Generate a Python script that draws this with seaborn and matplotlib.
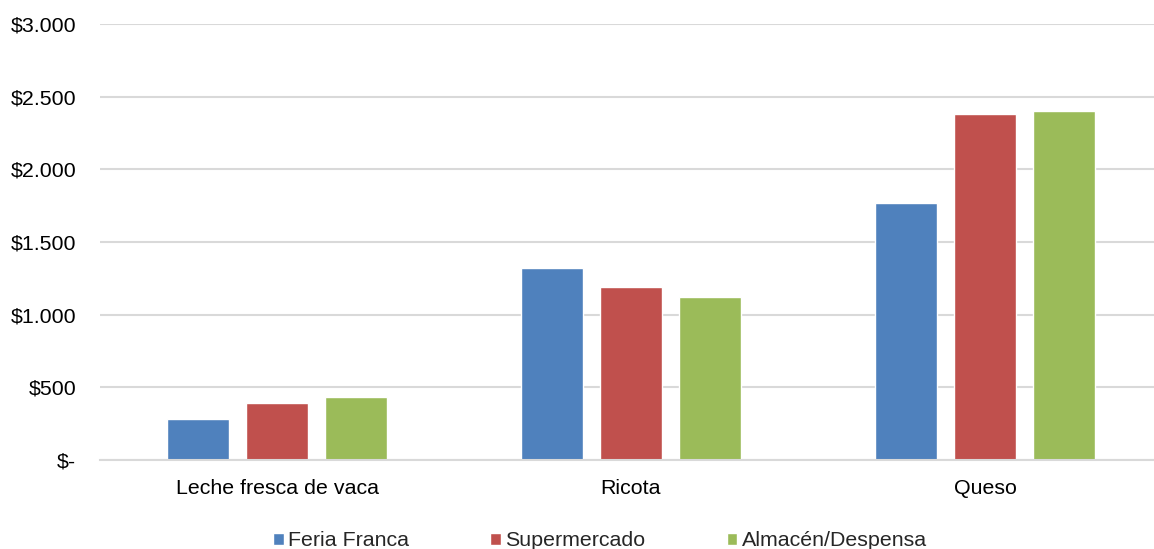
import pandas as pd
import matplotlib
matplotlib.use('Agg')
import matplotlib.pyplot as plt
import seaborn as sns
from matplotlib.patches import Patch
from matplotlib.ticker import FuncFormatter

productos = ['Leche fresca de vaca', 'Ricota', 'Queso']
canales = ['Feria Franca', 'Supermercado', 'Almacén/Despensa']
feria_franca = [280, 1322, 1765]
supermercado = [395, 1188, 2380]
almacen = [436, 1125, 2400]
colores = ['#4F81BD', '#C0504D', '#9BBB59']

rows = []
for canal, vals in zip(canales, [feria_franca, supermercado, almacen]):
    for p, v in zip(productos, vals):
        rows.append({'producto': p, 'canal': canal, 'precio': v})
df = pd.DataFrame(rows)

sns.set_style('white')
plt.rcParams['font.family'] = ['Liberation Sans', 'DejaVu Sans']

fig = plt.figure(figsize=(11.54, 5.49), dpi=100)
ax = fig.add_axes([100 / 1154, 89 / 549, 1062 / 1154, 436 / 549])

sns.barplot(data=df, x='producto', y='precio', hue='canal', order=productos,
            hue_order=canales, palette=colores, width=0.67, gap=0.215,
            ax=ax, legend=False, saturation=1)

ax.set_ylim(0, 3000)
ax.set_xlim(-0.5, 2.5)
ax.set_yticks(range(0, 3001, 500))


def fmt(v, pos):
    if v == 0:
        return '$-'
    return '$' + f'{int(v):,}'.replace(',', '.')


ax.yaxis.set_major_formatter(FuncFormatter(fmt))
ax.yaxis.grid(True, color='#d9d9d9', linewidth=1.5)
ax.set_axisbelow(True)
for s in ['top', 'right', 'left']:
    ax.spines[s].set_visible(False)
ax.spines['bottom'].set_color('#d9d9d9')
ax.spines['bottom'].set_linewidth(1.5)
ax.tick_params(axis='both', length=0, labelsize=15.4, colors='black')
ax.tick_params(axis='y', pad=17)
ax.tick_params(axis='x', pad=14)
ax.set_xlabel('')
ax.set_ylabel('')

handles = [Patch(facecolor=c, label=l) for c, l in zip(colores, canales)]
fig.legend(handles=handles, loc='center', bbox_to_anchor=(600 / 1154, 1 - 541 / 549),
           ncol=3, frameon=False, fontsize=15.4, handlelength=0.5, handleheight=0.5,
           handletextpad=0.2, columnspacing=3.8)

fig.savefig('out.png', dpi=100)
